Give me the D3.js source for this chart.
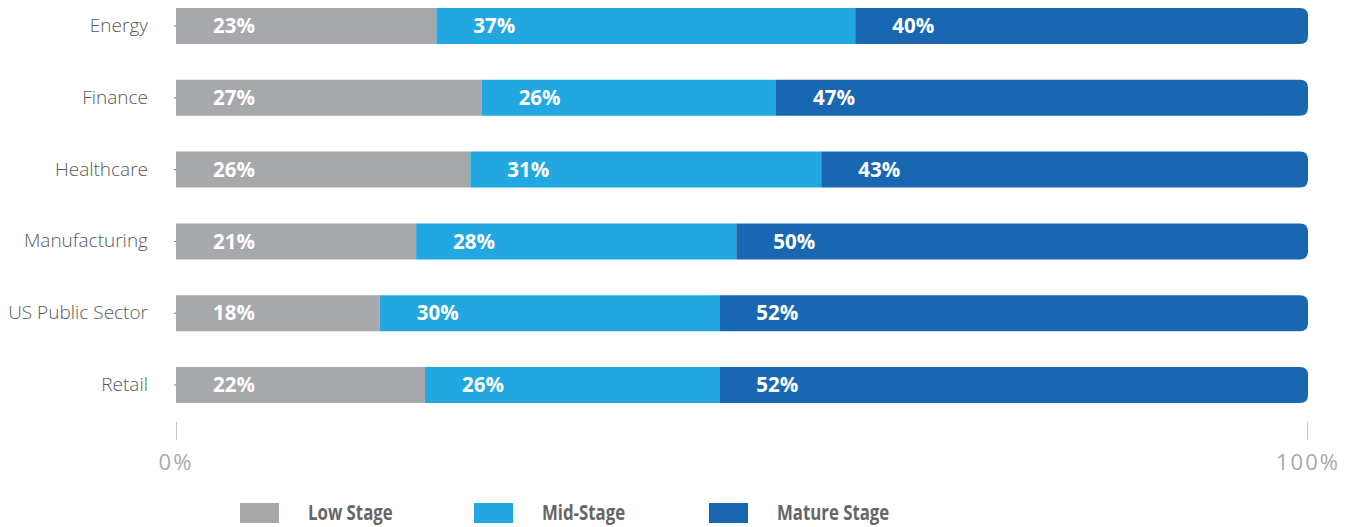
<!DOCTYPE html>
<html>
<head>
<meta charset="utf-8">
<script src="https://cdn.jsdelivr.net/npm/d3@7"></script>
<style>
  html, body { margin: 0; padding: 0; background: #fff; }
  svg { display: block; }
</style>
</head>
<body>
<svg id="chart" width="1349" height="527"></svg>
<script>
// Sector maturity breakdown (share of organisations at each stage)
const categories = ["Energy", "Finance", "Healthcare", "Manufacturing", "US Public Sector", "Retail"];
const stages = ["Low Stage", "Mid-Stage", "Mature Stage"];
const lowStage = [23, 27, 26, 21, 18, 22];
const midStage = [37, 26, 31, 28, 30, 26];
const matureStage = [40, 47, 43, 50, 52, 52];
const tickLabels = ["0%", "100%"];

const colors = ["#A7A8AB", "#21A8E0", "#1A67B1"];

const rows = categories.map((c, i) => ({
  category: c,
  "Low Stage": lowStage[i],
  "Mid-Stage": midStage[i],
  "Mature Stage": matureStage[i]
}));

const svg = d3.select("#chart");
const margin = { left: 176, right: 41 };
const plotW = 1349 - margin.left - margin.right;
const rowStep = 71.8;
const firstCenter = 26;

const x = d3.scaleLinear().domain([0, 1]).range([margin.left, margin.left + plotW]);
const y = d3.scaleBand()
  .domain(categories)
  .range([firstCenter - rowStep / 2, firstCenter - rowStep / 2 + rowStep * categories.length])
  .paddingInner(0)
  .paddingOuter(0);

// 100% stacked layout
const stack = d3.stack().keys(stages).offset(d3.stackOffsetExpand);
const series = stack(rows);
const color = d3.scaleOrdinal().domain(stages).range(colors);

const barH = 36;
const rowY = c => y(c) + y.bandwidth() / 2 - barH / 2;

// Rounded end cap on the last segment only
function segPath(x0, x1, y0, h, r) {
  if (r <= 0) return `M${x0},${y0}H${x1}V${y0 + h}H${x0}Z`;
  return `M${x0},${y0}H${x1 - r}Q${x1},${y0} ${x1},${y0 + r}V${y0 + h - r}Q${x1},${y0 + h} ${x1 - r},${y0 + h}H${x0}Z`;
}

const groups = svg.append("g").selectAll("g")
  .data(series)
  .join("g")
  .attr("fill", d => color(d.key));

groups.selectAll("path")
  .data(d => d.map((p, i) => ({ p, key: d.key, idx: d.index, cat: categories[i] })))
  .join("path")
  .attr("d", d => segPath(x(d.p[0]), x(d.p[1]), rowY(d.cat), barH, d.idx === stages.length - 1 ? 8 : 0));

// Value labels
const labelLayer = svg.append("g");
series.forEach(s => {
  s.forEach((p, i) => {
    labelLayer.append("text")
      .attr("x", x(p[0]) + 37)
      .attr("y", rowY(categories[i]) + barH / 2)
      .attr("dy", "0.35em")
      .attr("fill", "#fff")
      .attr("font-family", "'Open Sans', sans-serif")
      .attr("font-weight", 700)
      .attr("font-size", 20.5)
      .text(rows[i][s.key] + "%");
  });
});

// Category axis
const yAxis = svg.append("g")
  .attr("transform", `translate(${margin.left},0)`)
  .call(d3.axisLeft(y).tickSize(2).tickPadding(26));
yAxis.select(".domain").remove();
yAxis.selectAll(".tick line").attr("stroke", "#777");
yAxis.selectAll("text")
  .attr("font-family", "'Open Sans', sans-serif")
  .attr("font-weight", 300)
  .attr("font-size", 19)
  .attr("fill", "#595959");

// Percentage axis
const xAxis = svg.append("g");
const tickVals = [0, 1];
xAxis.selectAll("line")
  .data(tickVals)
  .join("line")
  .attr("x1", d => x(d) + (d === 1 ? -0.5 : 0.5))
  .attr("x2", d => x(d) + (d === 1 ? -0.5 : 0.5))
  .attr("y1", 422)
  .attr("y2", 440)
  .attr("stroke", "#c4c4c4")
  .attr("stroke-width", 1);
xAxis.selectAll("text")
  .data(tickVals)
  .join("text")
  .attr("x", d => x(d))
  .attr("y", 470)
  .attr("text-anchor", "middle")
  .attr("font-family", "'Open Sans', sans-serif")
  .attr("font-size", 22)
  .attr("letter-spacing", 2)
  .attr("fill", "#a9a9a9")
  .text((d, i) => tickLabels[i]);

// Legend (condensed bold labels)
const legendX = [240, 474, 709];
const legend = svg.append("g").selectAll("g")
  .data(stages)
  .join("g")
  .attr("transform", (d, i) => `translate(${legendX[i]},503)`);
legend.append("rect")
  .attr("width", 39)
  .attr("height", 20)
  .attr("fill", d => color(d));
legend.append("text")
  .attr("transform", "translate(68,10) scale(0.8,1)")
  .attr("dy", "0.35em")
  .attr("font-family", "'Open Sans', sans-serif")
  .attr("font-weight", 700)
  .attr("font-size", 21)
  .attr("fill", "#666")
  .text(d => d);
</script>
</body>
</html>
